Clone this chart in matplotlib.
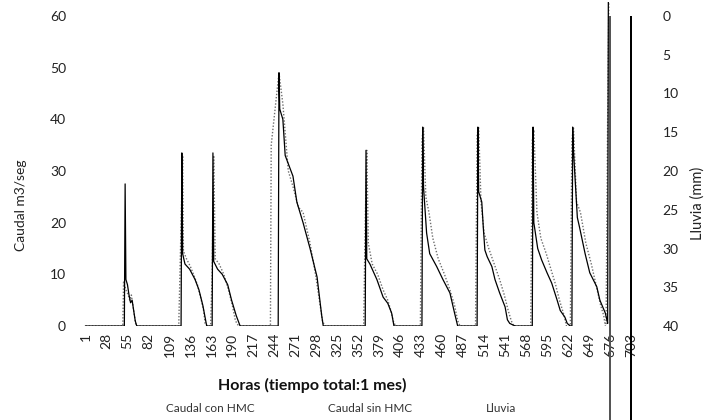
import matplotlib
matplotlib.use("Agg")
import matplotlib.pyplot as plt
from matplotlib.lines import Line2D

plt.rcParams['font.family'] = ['Lato', 'DejaVu Sans']

# ---- data ----
con_h = [1, 51, 52, 53, 55, 57, 59, 61, 63, 65, 67,
         124, 125, 126, 129, 135, 142, 147, 152, 157,
         164, 165, 166, 171, 177, 184, 189, 195, 200,
         249, 250, 251, 255, 258, 268, 273, 281, 290, 299, 305, 307,
         361, 362, 363, 367, 376, 384, 390, 395, 398,
         434, 435, 436, 440, 444, 453, 461, 470, 476, 480,
         505, 506, 507, 511, 513, 515, 518, 524, 528, 534, 541, 544, 547, 554,
         576, 577, 578, 583, 588, 595, 601, 608, 612, 618, 621, 625,
         627, 628, 629, 634, 637, 644, 650, 659, 663, 670, 672,
         673, 674]
con_v = [0, 0, 27.5, 9, 8, 6, 4.5, 5, 3, 1, 0,
         0, 33.5, 14, 12, 11, 9, 7, 4, 0,
         0, 33.5, 12.5, 11, 10, 8, 5, 2, 0,
         0, 49, 42, 40, 33, 29, 24, 20, 15, 9.5, 2, 0,
         0, 34, 13, 12, 9, 5.6, 4.4, 2.5, 0,
         0, 38.5, 27, 18, 14, 11.5, 9, 6.4, 2.5, 0,
         0, 38.5, 26, 24, 19, 14.7, 13.4, 11.5, 9, 6.4, 3.7, 1.2, 0.5, 0,
         0, 38.5, 20, 15, 12.8, 10.3, 8.3, 5, 3, 1.7, 0.5, 0,
         0, 38.5, 34, 21, 19, 14, 10.3, 7.6, 5, 2.5, 1.2,
         0.5, 70]

sin_h = [1, 49, 50, 53, 56, 58, 60, 62, 64, 66,
         121, 123, 126, 127, 131, 136, 140, 145, 150, 153, 155, 158,
         162, 164, 166, 168, 173, 179, 185, 190, 194, 198,
         239, 240, 250, 255, 262, 268, 275, 281, 290, 297, 302, 306, 309,
         359, 361, 363, 365, 370, 377, 384, 390, 394, 397, 400,
         432, 434, 436, 439, 443, 448, 455, 463, 470, 476, 480, 483,
         503, 505, 507, 510, 514, 520, 527, 534, 540, 545, 549, 552,
         574, 576, 578, 582, 587, 594, 600, 606, 611, 617, 620,
         625, 627, 629, 633, 638, 645, 652, 658, 664, 668, 670,
         671, 673, 675]
sin_v = [0, 0, 8.5, 7, 6, 5, 6, 4, 2, 0,
         0, 13, 33, 14.5, 13, 11.5, 10, 8, 5, 3, 0.5, 0,
         0, 10, 33, 13, 12, 10, 7, 4, 1, 0,
         0, 35, 49, 43, 30, 27, 23, 22, 16, 10, 5, 1, 0,
         0, 20, 34, 16, 12, 10, 7, 5, 3, 1, 0,
         0, 36, 38.5, 25, 22, 17, 13, 10, 7, 4, 1, 0,
         0, 37, 38.5, 24, 18, 15, 12, 9, 6, 3, 1, 0,
         0, 36, 38, 22, 17, 14, 11, 8, 5, 2, 0,
         0, 36, 38.5, 24, 22, 16, 12, 8, 4, 2, 0,
         0, 40, 70]

lluvia_h = [676, 703]
lluvia_mm = [55, 55]

xticks = list(range(1, 704, 27))
xtick_labels = [str(t) for t in xticks]
left_ticks = [0, 10, 20, 30, 40, 50, 60]
right_ticks = [0, 5, 10, 15, 20, 25, 30, 35, 40]

# ---- layout ----
W, H = 711, 420
fig = plt.figure(figsize=(W / 100, H / 100), dpi=100)
L, R, T, B = 80, 650, 2, 326
ax = fig.add_axes([L / W, 1 - B / H, (R - L) / W, (B - T) / H])
ax2 = ax.twinx()

px_per_h = 0.777
x0 = 85.5
ax.set_xlim(1 + (L - x0) / px_per_h, 1 + (R - x0) / px_per_h)
ax.set_ylim(0, 60 * (B - T) / 310)
ax2.set_ylim(40, -40 * (16 - T) / 310)

ax.plot(sin_h, sin_v, color='#6e6e6e', lw=1.0, ls=(0, (1, 1.3)),
        label='Caudal sin HMC', zorder=2)
ax.plot(con_h, con_v, color='black', lw=0.9, label='Caudal con HMC', zorder=3)
ax2.bar(lluvia_h, lluvia_mm, width=[1.6, 3.0], color=['#555555', 'black'],
        align='center', clip_on=False, label='Lluvia')

for a in (ax, ax2):
    for s in a.spines.values():
        s.set_visible(False)

tick_fs = 10
ax.set_xticks(xticks)
ax.set_xticklabels(xtick_labels, rotation=90, fontsize=tick_fs, color='#222222')
ax.tick_params(axis='x', length=0, pad=5)
ax.set_yticks(left_ticks)
ax.set_yticklabels([str(t) for t in left_ticks], fontsize=tick_fs, color='#222222')
ax.tick_params(axis='y', length=0, pad=10)
ax2.set_yticks(right_ticks)
ax2.set_yticklabels([str(t) for t in right_ticks], fontsize=tick_fs, color='#222222')
ax2.tick_params(axis='y', length=0, pad=9)

fig.text(312 / W, 1 - 385 / H, 'Horas (tiempo total:1 mes)', ha='center',
         va='center', fontsize=11.5, fontweight='bold', color='#111111')
fig.text(21 / W, 1 - 205 / H, 'Caudal m3/seg', rotation=90, ha='center',
         va='center', fontsize=10, color='#222222')
fig.text(698 / W, 1 - 203 / H, 'Lluvia (mm)', rotation=90, ha='center',
         va='center', fontsize=10.5, color='#222222')

handles = [Line2D([], [], lw=0) for _ in range(3)]
fig.legend(handles, ['Caudal con HMC', 'Caudal sin HMC', 'Lluvia'],
           loc='center', bbox_to_anchor=(341 / W, 1 - 409 / H), ncol=3,
           frameon=False, handlelength=0, handletextpad=0, columnspacing=6.2,
           fontsize=8.5, labelcolor='#333333')

fig.savefig('out.png', dpi=100)
